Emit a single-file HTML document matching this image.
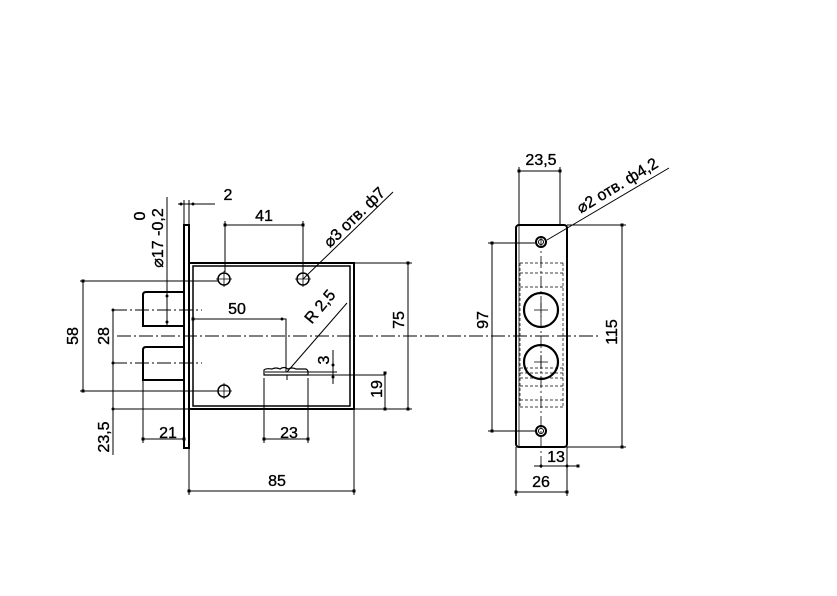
<!DOCTYPE html>
<html><head><meta charset="utf-8"><style>
html,body{margin:0;padding:0;background:#fff;}
svg{display:block;}
text{font-family:"Liberation Sans",Arial,sans-serif;font-size:16px;fill:#000;stroke:#000;stroke-width:0.35px;}
</style></head><body>
<svg width="837" height="596" viewBox="0 0 837 596" xmlns="http://www.w3.org/2000/svg">
<defs>
<marker id="t" viewBox="0 0 4 4" refX="2" refY="2" markerWidth="4" markerHeight="4" markerUnits="userSpaceOnUse"><rect x="0.5" y="0.5" width="3" height="3" fill="#000"/></marker>
</defs>
<g fill="none" stroke="#000" stroke-width="1">
<rect x="184" y="225" width="5" height="223" stroke-width="2"/>
<rect x="189" y="263" width="165" height="146" stroke-width="2"/>
<rect x="193" y="266" width="157" height="140" stroke-width="1.5"/>
<path d="M184 292 H146 Q143 292 143 295 V326 H184" stroke-width="2"/>
<path d="M184 347 H146 Q143 347 143 350 V380 H184" stroke-width="2"/>
<circle cx="224" cy="279" r="6" stroke-width="1.5"/>
<circle cx="303" cy="279" r="6" stroke-width="1.5"/>
<circle cx="224" cy="391" r="6" stroke-width="1.5"/>
<path d="M216 279h16M224 271v16M295 279h16M303 271v16M216 391h16M224 383v16" stroke-width="0.8"/>
<path d="M117 336 H600" stroke-dasharray="14 3 2 3" stroke-width="1"/>
<path d="M113 310 H202" stroke-dasharray="14 3 2 3" stroke-width="1"/>
<path d="M113 363 H202" stroke-dasharray="14 3 2 3" stroke-width="1"/>
<path d="M264 375 V370 Q266 368 272 369 Q276 367 280 369 Q284 366 288 369 Q292 367 296 369 H306 Q308 370 308 372 V375 Z" stroke-width="1.2"/>
<path d="M287 375 L287 380 M265 372 H337 M308 375 H385" stroke-width="1"/>
<g stroke-width="1">
<path d="M80 281 H218 M80 391 H218"/>
<path d="M83 281 V391" marker-start="url(#t)" marker-end="url(#t)"/>
<path d="M113 310 V455" />
<circle cx="113" cy="310" r="1" fill="#000"/><circle cx="113" cy="363" r="1" fill="#000"/><circle cx="113" cy="409" r="1" fill="#000"/>
<path d="M113 409 H189"/>
<path d="M143 380 V443 M184 448 V443 M264 378 V443 M308 378 V443"/>
<path d="M143 439 H184" marker-start="url(#t)" marker-end="url(#t)"/>
<path d="M264 439 H308" marker-start="url(#t)" marker-end="url(#t)"/>
<path d="M189 448 V495 M354 409 V495"/>
<path d="M189 491 H354" marker-start="url(#t)" marker-end="url(#t)"/>
<path d="M354 263 H412 M354 409 H412"/>
<path d="M408 263 V409" marker-start="url(#t)" marker-end="url(#t)"/>
<path d="M385 373 V409" marker-start="url(#t)" marker-end="url(#t)"/>
<path d="M333 350 V384"/><circle cx="333" cy="365" r="1" fill="#000"/><circle cx="333" cy="377" r="1" fill="#000"/>
<path d="M193 319 H286 V372" marker-start="url(#t)"/>
<circle cx="282" cy="319" r="1" fill="#000"/>
<path d="M225 272 V221 M303 272 V221"/>
<path d="M225 225 H303" marker-start="url(#t)" marker-end="url(#t)"/>
<path d="M178 204 H194 M184 200 V225 M189 200 V225 M194 204 H215"/>
<circle cx="181" cy="204" r="1" fill="#000"/><circle cx="193" cy="204" r="1" fill="#000"/>
<path d="M167 197 V326"/><circle cx="167" cy="296" r="1" fill="#000"/><circle cx="167" cy="322" r="1" fill="#000"/>
<path d="M303 279 L393 192"/>
<path d="M287 372 L347 303"/>
</g>
<rect x="516" y="225" width="51" height="222" rx="3" stroke-width="2"/>
<path d="M519 225 V447" stroke-width="0.8"/>
<circle cx="541" cy="242" r="5" stroke-width="2"/><circle cx="541" cy="242" r="2.5" stroke-width="1"/>
<circle cx="541" cy="431" r="5" stroke-width="2"/><circle cx="541" cy="431" r="2.5" stroke-width="1"/>
<circle cx="541" cy="310" r="17" stroke-width="2.2"/>
<circle cx="541" cy="362" r="17" stroke-width="2.2"/>
<path d="M534 310h14M541 303v14M534 362h14M541 355v14" stroke-width="0.8"/>
<g stroke-width="0.7" stroke-dasharray="3 2">
<path d="M520 263H563M520 273H563M520 287H563M520 368H563M520 373H563M520 378H563M520 386H563M520 400H563M520 407H563"/>
<path d="M520 263V407M563 263V407"/>
</g>
<path d="M541 236V470" stroke-width="0.8" stroke-dasharray="12 3 2 3"/>
<g stroke-width="1">
<path d="M488 243 H535 M488 431 H535"/>
<path d="M492 243 V431" marker-start="url(#t)" marker-end="url(#t)"/>
<path d="M567 225 H626 M567 447 H626"/>
<path d="M622 225 V447" marker-start="url(#t)" marker-end="url(#t)"/>
<path d="M519 167 V225 M560 167 V225"/>
<path d="M519 171 H560" marker-start="url(#t)" marker-end="url(#t)"/>
<path d="M516 447 V496 M567 447 V496"/>
<path d="M534 466 H578" marker-end="url(#t)"/><circle cx="541" cy="466" r="1" fill="#000"/><circle cx="567" cy="466" r="1" fill="#000"/>
<path d="M516 492 H567" marker-start="url(#t)" marker-end="url(#t)"/>
<path d="M547 240 L669 168"/>
</g>
</g>
<text x="228" y="200" text-anchor="middle">2</text>
<text x="264" y="221" text-anchor="middle">41</text>
<text x="237" y="314" text-anchor="middle">50</text>
<text x="168" y="438" text-anchor="middle">21</text>
<text x="289" y="438" text-anchor="middle">23</text>
<text x="277" y="486" text-anchor="middle">85</text>
<text transform="translate(404,320) rotate(-90)" text-anchor="middle">75</text>
<text transform="translate(382,389) rotate(-90)" text-anchor="middle">19</text>
<text transform="translate(329,360) rotate(-90)" text-anchor="middle">3</text>
<text transform="translate(78,336) rotate(-90)" text-anchor="middle">58</text>
<text transform="translate(109,336) rotate(-90)" text-anchor="middle">28</text>
<text transform="translate(109,437) rotate(-90)" text-anchor="middle">23,5</text>
<text transform="translate(145,216) rotate(-90)" text-anchor="middle">0</text>
<text transform="translate(163,238) rotate(-90)" text-anchor="middle">⌀17 -0,2</text>
<text transform="translate(358,221) rotate(-44)" text-anchor="middle">⌀3 отв. ф7</text>
<text transform="translate(324,310) rotate(-50)" text-anchor="middle">R 2,5</text>
<text x="541" y="165" text-anchor="middle">23,5</text>
<text transform="translate(488,320) rotate(-90)" text-anchor="middle">97</text>
<text transform="translate(617,332) rotate(-90)" text-anchor="middle">115</text>
<text x="556" y="462" text-anchor="middle">13</text>
<text x="541" y="487" text-anchor="middle">26</text>
<text transform="translate(620,190) rotate(-31)" text-anchor="middle">⌀2 отв. ф4,2</text>
</svg>
</body></html>
